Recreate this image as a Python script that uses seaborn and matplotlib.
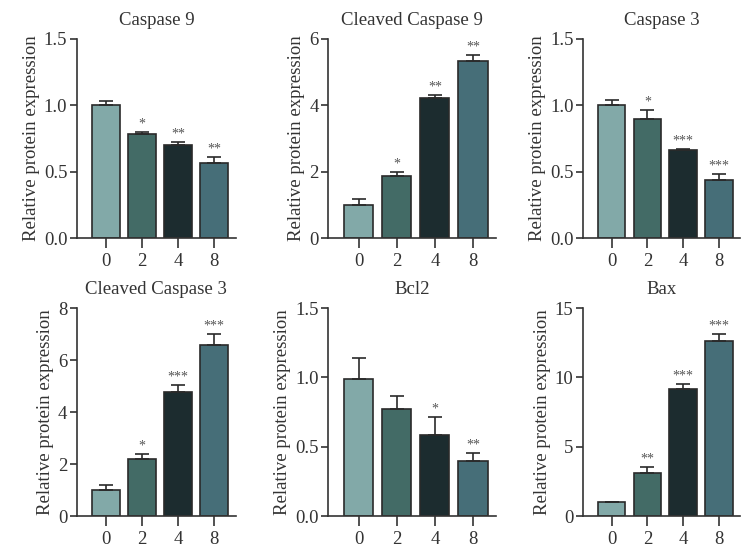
import numpy as np
import pandas as pd
import matplotlib
matplotlib.use("Agg")
import matplotlib.pyplot as plt
import seaborn as sns

# ==========================
# DATA
# ==========================

doses = ["0", "2", "4", "8"]

titles = [
    "Caspase 9",
    "Cleaved Caspase 9",
    "Caspase 3",
    "Cleaved Caspase 3",
    "Bcl2",
    "Bax",
]

means = [
    [1.00, 0.78, 0.70, 0.565],
    [1.00, 1.86, 4.22, 5.33],
    [1.00, 0.90, 0.66, 0.44],
    [1.00, 2.19, 4.77, 6.58],
    [0.99, 0.77, 0.585, 0.40],
    [1.00, 3.10, 9.20, 12.60],
]

errors = [
    [0.03, 0.02, 0.022, 0.048],
    [0.18, 0.14, 0.09, 0.19],
    [0.04, 0.068, 0.014, 0.045],
    [0.21, 0.20, 0.29, 0.43],
    [0.15, 0.093, 0.13, 0.057],
    [0.03, 0.46, 0.32, 0.53],
]

stars = [
    ["", "*", "**", "**"],
    ["", "*", "**", "**"],
    ["", "*", "***", "***"],
    ["", "*", "***", "***"],
    ["", "", "*", "**"],
    ["", "**", "***", "***"],
]

ylims = [1.5, 6, 1.5, 8, 1.5, 15]
yticks = [
    [0.0, 0.5, 1.0, 1.5],
    [0, 2, 4, 6],
    [0.0, 0.5, 1.0, 1.5],
    [0, 2, 4, 6, 8],
    [0.0, 0.5, 1.0, 1.5],
    [0, 5, 10, 15],
]
ytick_fmt = ["{:.1f}", "{:.0f}", "{:.1f}", "{:.0f}", "{:.1f}", "{:.0f}"]

bar_colors = ["#82a9a8", "#436b66", "#1c2c2f", "#466e78"]

# ==========================
# STYLE
# ==========================

sns.set_style("ticks")
plt.rcParams["font.family"] = ["Liberation Serif", "DejaVu Serif"]
plt.rcParams["font.size"] = 13.5
plt.rcParams["text.color"] = "#333333"
plt.rcParams["axes.labelcolor"] = "#333333"
plt.rcParams["xtick.color"] = "#333333"
plt.rcParams["ytick.color"] = "#333333"

fig = plt.figure(figsize=(7.41, 5.55), dpi=100)

lefts = [0.104, 0.443, 0.787]
widths = [0.214, 0.226, 0.212]
bottoms = [0.571, 0.070]
heights = [0.359, 0.375]

for i, title in enumerate(titles):
    row, col = divmod(i, 3)
    ax = fig.add_axes([lefts[col], bottoms[row], widths[col], heights[row]])

    df = pd.DataFrame({"dose": doses, "value": means[i]})

    sns.barplot(
        data=df,
        x="dose",
        y="value",
        hue="dose",
        palette=bar_colors,
        order=doses,
        legend=False,
        saturation=1,
        width=0.77,
        edgecolor="#2a2a2a",
        linewidth=1.2,
        ax=ax,
    )

    xs = np.arange(len(doses))
    ax.errorbar(
        xs,
        means[i],
        yerr=[np.zeros(len(doses)), errors[i]],
        fmt="none",
        ecolor="#2a2a2a",
        elinewidth=1.2,
        capsize=5,
        capthick=1.2,
        zorder=1,
    )

    for x, m, e, s in zip(xs, means[i], errors[i], stars[i]):
        if s:
            ax.annotate(
                s,
                xy=(x, m + e),
                xytext=(0, 1),
                textcoords="offset points",
                ha="center",
                va="bottom",
                fontsize=10,
                color="#555555",
            )

    ax.set_xlim(-0.8, 3.6)
    ax.set_ylim(0, ylims[i])
    ax.set_yticks(yticks[i])
    ax.set_yticklabels([ytick_fmt[i].format(t) for t in yticks[i]])
    ax.set_xlabel("")
    ax.set_ylabel("Relative protein expression", fontsize=13.5, labelpad=3)
    ax.set_title(title, fontsize=13.5, pad=10)

    sns.despine(ax=ax)
    for sp in ["left", "bottom"]:
        ax.spines[sp].set_linewidth(1.2)
        ax.spines[sp].set_color("#333333")
    ax.tick_params(axis="y", length=5, width=1.2, pad=2)
    ax.tick_params(axis="x", length=7, width=1.2, pad=4)

fig.savefig("out.png", dpi=100)
plt.close(fig)
